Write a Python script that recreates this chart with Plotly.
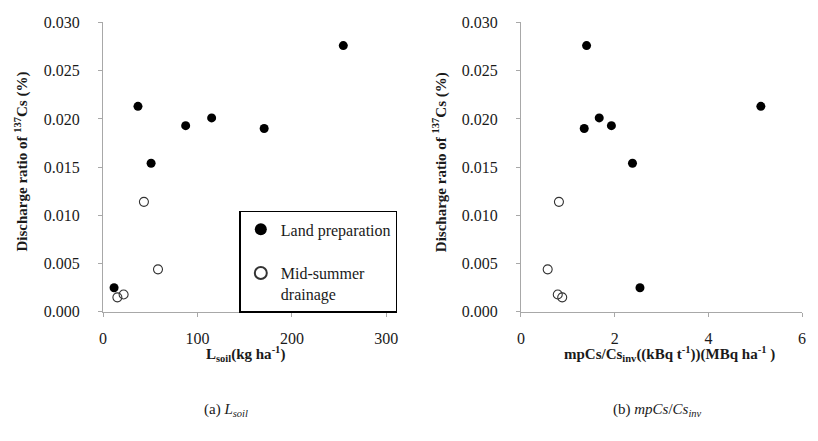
import plotly.graph_objects as go

# Data
lsoil_land = [11.7, 37.0, 50.9, 87.5, 115.0, 170.6, 254.4]
mpcs_land = [2.54, 5.12, 2.38, 1.93, 1.67, 1.35, 1.40]
ratio_land = [0.0025, 0.0213, 0.0154, 0.0193, 0.0201, 0.0190, 0.0276]

lsoil_mid = [43.3, 58.2, 15.2, 21.8]
mpcs_mid = [0.81, 0.57, 0.88, 0.785]
ratio_mid = [0.0114, 0.0044, 0.0015, 0.0018]

x1_ticks = [0, 100, 200, 300]
x2_ticks = [0, 2, 4, 6]
y_ticks = [0.000, 0.005, 0.010, 0.015, 0.020, 0.025, 0.030]

# Layout is given in reference pixels (818x441) and converted to paper fractions,
# the figure then fills the whole browser viewport.
W, H = 818, 441
SERIF = "Liberation Serif"


def px(xp):
    return xp / W


def py(yp):
    return (H - yp) / H


filled = dict(symbol="circle", size=9, color="black", line=dict(color="black", width=0))
hollow = dict(symbol="circle-open", size=9, color="#333333", line=dict(width=1.1))

fig = go.Figure()
fig.add_trace(go.Scatter(x=lsoil_land, y=ratio_land, mode="markers", marker=filled,
                         name="Land preparation", legendgroup="a", xaxis="x", yaxis="y"))
fig.add_trace(go.Scatter(x=lsoil_mid, y=ratio_mid, mode="markers", marker=hollow,
                         name="Mid-summer<br>drainage", legendgroup="b", xaxis="x", yaxis="y"))
fig.add_trace(go.Scatter(x=mpcs_land, y=ratio_land, mode="markers", marker=filled,
                         showlegend=False, xaxis="x2", yaxis="y2"))
fig.add_trace(go.Scatter(x=mpcs_mid, y=ratio_mid, mode="markers", marker=hollow,
                         showlegend=False, xaxis="x2", yaxis="y2"))

ydom = [py(316), py(15)]
axis_common = dict(showgrid=False, zeroline=False, showline=True, linecolor="#a8a8a8",
                   linewidth=1, ticks="outside", ticklen=4, tickcolor="#a8a8a8",
                   ticklabeloverflow="allow",
                   tickfont=dict(family=SERIF, size=16, color="#1a1a1a"))

fig.update_layout(
    autosize=True,
    margin=dict(l=0, r=0, t=0, b=0),
    paper_bgcolor="white", plot_bgcolor="white",
    font=dict(family=SERIF, color="#1a1a1a"),
    showlegend=True,
    xaxis=dict(domain=[px(101), px(390)], range=[0, 300], tickvals=x1_ticks,
               anchor="y", ticklabelstandoff=8, **axis_common),
    yaxis=dict(domain=ydom, range=[0, 0.030], tickvals=y_ticks, tickformat=".3f",
               anchor="x", ticklabelstandoff=15, **axis_common),
    xaxis2=dict(domain=[px(527.3), px(814)], range=[0, 6], tickvals=x2_ticks,
                anchor="y2", ticklabelstandoff=8, **axis_common),
    yaxis2=dict(domain=ydom, range=[0, 0.030], tickvals=y_ticks, tickformat=".3f",
                anchor="x2", ticklabelstandoff=15, **axis_common),
    legend=dict(x=px(240), y=py(211), xanchor="left", yanchor="top",
                bordercolor="black", borderwidth=1.5, bgcolor="white",
                font=dict(family=SERIF, size=16, color="#1a1a1a"),
                itemsizing="constant", tracegroupgap=20, itemwidth=30, valign="top"),
)

ann_font = dict(family=SERIF, size=15, color="#1a1a1a")
annotations = [
    dict(text="<b>Discharge ratio of <sup>137</sup>Cs (%)</b>", x=18, y=160, textangle=-90),
    dict(text="<b>Discharge ratio of <sup>137</sup>Cs (%)</b>", x=445, y=160, textangle=-90),
    dict(text="<b>L<sub>soil</sub>(kg ha<sup>-1</sup>)</b>", x=246, y=360),
    dict(text="<b>mpCs/Cs<sub>inv</sub>((kBq t<sup>-1</sup>))(MBq ha<sup>-1</sup> )</b>", x=679, y=360),
    dict(text="(a) <i>L<sub>soil</sub></i>", x=226, y=418),
    dict(text="(b) <i>mpCs</i>/<i>Cs<sub>inv</sub></i>", x=667, y=418),
]
for a in annotations:
    fig.add_annotation(text=a["text"], x=px(a["x"]), y=py(a["y"]), xref="paper",
                       yref="paper", xanchor="center", yanchor="middle", showarrow=False,
                       textangle=a.get("textangle", 0), font=ann_font)

post = (
    "var de=document.documentElement, b=document.body;"
    "de.style.margin='0';de.style.padding='0';de.style.height='100%';de.style.overflow='hidden';"
    "b.style.margin='0';b.style.padding='0';b.style.height='100%';b.style.overflow='hidden';"
    "var gd=document.getElementById('{plot_id}');"
    "gd.parentElement.style.height='100%';gd.parentElement.style.width='100%';"
    "gd.style.height='100%';gd.style.width='100%';"
    "Plotly.Plots.resize(gd);"
)
fig.write_html("out.html", config={"displayModeBar": False, "responsive": True},
               default_width="100%", default_height="100%", post_script=post)
